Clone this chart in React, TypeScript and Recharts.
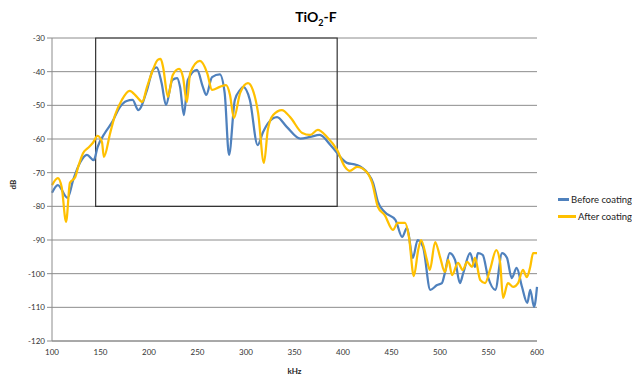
import {
  LineChart,
  Line,
  XAxis,
  YAxis,
  CartesianGrid,
  ReferenceArea,
  Legend,
} from 'recharts';

const freqTicks = [100, 150, 200, 250, 300, 350, 400, 450, 500, 550, 600];
const dbTicks = [-120, -110, -100, -90, -80, -70, -60, -50, -40, -30];

// Before coating
const beforeFreq = [
  100, 106, 116, 122, 129, 136, 143, 147, 155, 162, 170, 177, 183, 189, 198, 204, 208, 213, 217.5,
  224, 229, 232, 236, 240, 249.5, 255.5, 259, 265, 273, 278, 282.5, 288.5, 294, 297, 304, 312,
  317.5, 323, 332, 342, 356, 366, 376, 387, 394, 397, 404, 414, 425, 431, 436, 443, 454, 461, 466,
  472, 477, 482.5, 490, 497, 502, 505, 510, 515.5, 520.5, 524, 531, 536, 539, 544, 549.5, 557,
  564, 569, 574, 579, 584.5, 590, 593, 597, 600,
];
const beforeDb = [
  -76, -73.7, -77.5, -72, -67, -64.7, -66.3, -62.4, -58, -55, -50.5, -48.7, -48.4, -51.4, -45.4,
  -39.5, -38.7, -43.4, -49.9, -42.5, -41.9, -44.5, -52.9, -42.5, -39.5, -44.5, -46.9, -41.6, -40.8,
  -46.3, -64.7, -48.4, -45.4, -44.5, -48.4, -61.8, -58, -55.2, -53.5, -56.4, -59.9, -59.4, -58.8,
  -61.8, -64.2, -65.3, -67.1, -67.7, -70, -73, -78.7, -81.7, -84, -89.1, -86.4, -95.3, -90, -92,
  -104.8, -103.4, -102.8, -99.8, -93.9, -95.9, -102.8, -99.8, -93.9, -98, -93.9, -94.4, -101,
  -104.8, -93.9, -95.3, -101.3, -98.3, -103.9, -108.7, -104.8, -109.9, -103.9,
];

// After coating
const afterFreq = [
  100, 106, 110, 114.5, 118.5, 124, 127, 132, 137, 142, 147, 151.5, 153.5, 160, 165, 172, 180,
  187.5, 193, 198, 204, 209, 212, 214.5, 219.5, 224.5, 231, 235, 239, 242.5, 252.5, 260, 265, 273,
  279.5, 283.5, 287.5, 294, 302, 307, 312.5, 318.5, 322.5, 328, 337, 345.5, 358, 366, 374, 383.5,
  394, 402, 407, 414.5, 425, 430, 436, 443, 451.5, 456.5, 464, 468, 473, 477.5, 480.5, 486.5,
  489.5, 495, 500, 505, 508.5, 512.5, 518.5, 523.5, 528, 533, 536, 541.5, 546.5, 551.5, 558, 562,
  565, 570, 575.5, 580.5, 585.5, 589.5, 593, 596, 600,
];
const afterDb = [
  -73.7, -71.6, -74.3, -84.6, -73, -71.3, -68.3, -64.2, -62.7, -61.2, -59.1, -60.9, -65.3, -58.2,
  -52.9, -48.4, -45.7, -47.5, -49, -44.5, -39.5, -36.5, -36.2, -38.6, -47.5, -41, -39.2, -41.6,
  -49, -40.4, -36.8, -40.4, -45.4, -44.5, -44, -46.9, -53.8, -46.3, -43.4, -45.4, -52.3, -67.1,
  -57.3, -52.9, -51.4, -53.5, -58.2, -58.8, -57.3, -59.4, -63.3, -68.3, -69.5, -68.3, -70, -73,
  -80.2, -82.6, -87, -84.9, -84.9, -89.1, -100.7, -93, -90, -95.9, -98.9, -90.6, -95, -99.5,
  -95.9, -100.4, -96.8, -98.9, -96.5, -98, -95.3, -101.9, -102.8, -98.9, -93, -96.8, -107.2,
  -102.8, -103.9, -102.8, -98.9, -101, -98, -93.9, -93.9,
];

const beforeData = beforeFreq.map((f, i) => ({ f, db: beforeDb[i] }));
const afterData = afterFreq.map((f, i) => ({ f, db: afterDb[i] }));

const FONT = 'Lato, "Open Sans", sans-serif';
const BLUE = '#4F81BD';
const GOLD = '#FFC000';

const LegendBox = () => (
  <div style={{ fontFamily: FONT, fontSize: 9.5, color: '#222', lineHeight: '17px', whiteSpace: 'nowrap' }}>
    <div style={{ display: 'flex', alignItems: 'center' }}>
      <span style={{ width: 20, height: 2.5, background: BLUE, marginRight: 2 }} />
      Before coating
    </div>
    <div style={{ display: 'flex', alignItems: 'center' }}>
      <span style={{ width: 20, height: 2.5, background: GOLD, marginRight: 2 }} />
      After coating
    </div>
  </div>
);

export default function App() {
  return (
    <div style={{ position: 'absolute', left: 0, top: 0, width: 632, height: 377, overflow: 'hidden', background: '#fff' }}>
      <div
        style={{
          position: 'absolute',
          left: 0,
          width: 632,
          top: 8,
          textAlign: 'center',
          fontFamily: FONT,
          fontWeight: 'bold',
          fontSize: 14,
          color: '#000',
        }}
      >
        TiO<sub style={{ fontSize: 9 }}>2</sub>-F
      </div>
      <LineChart width={632} height={377} data={beforeData} margin={{ top: 38, right: 21, left: 0, bottom: 0 }}>
        <CartesianGrid vertical={false} stroke="#8c8c8c" strokeWidth={1} />
        <XAxis
          dataKey="f"
          type="number"
          domain={[100, 600]}
          ticks={freqTicks}
          interval={0}
          height={36}
          axisLine={{ stroke: '#8c8c8c' }}
          tickLine={false}
          tick={{ fontSize: 8, fill: '#333', fontFamily: FONT }}
          label={{ value: 'kHz', position: 'insideBottom', offset: 3, fontSize: 8, fontWeight: 'bold', fill: '#222', fontFamily: FONT }}
        />
        <YAxis
          type="number"
          domain={[-120, -30]}
          ticks={dbTicks}
          interval={0}
          width={52}
          axisLine={{ stroke: '#8c8c8c' }}
          tickLine={{ stroke: '#8c8c8c' }}
          tickSize={5}
          tick={{ fontSize: 8, fill: '#333', fontFamily: FONT }}
          label={{ value: 'dB', angle: -90, position: 'insideLeft', offset: 13, fontSize: 8, fontWeight: 'bold', fill: '#222', fontFamily: FONT }}
        />
        <ReferenceArea x1={145} x2={394} y1={-80} y2={-30} fill="none" fillOpacity={0} stroke="#333" strokeWidth={1.2} ifOverflow="visible" />
        <Line
          data={beforeData}
          dataKey="db"
          name="Before coating"
          type="monotone"
          stroke={BLUE}
          strokeWidth={2.25}
          dot={false}
          isAnimationActive={false}
        />
        <Line
          data={afterData}
          dataKey="db"
          name="After coating"
          type="monotone"
          stroke={GOLD}
          strokeWidth={2.25}
          dot={false}
          isAnimationActive={false}
        />
        <Legend
          layout="vertical"
          align="right"
          verticalAlign="middle"
          width={74}
          wrapperStyle={{ left: 558, top: 191 }}
          content={<LegendBox />}
        />
      </LineChart>
    </div>
  );
}
